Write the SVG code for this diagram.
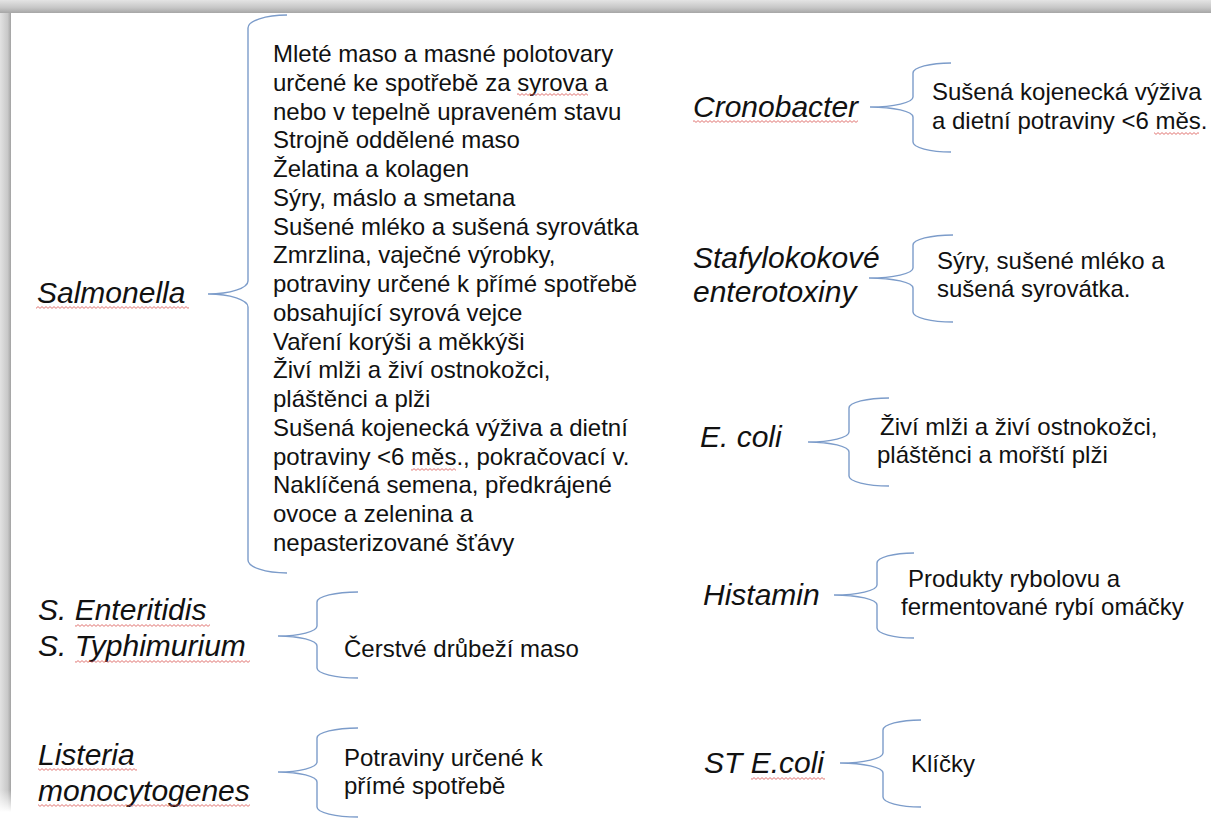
<svg xmlns="http://www.w3.org/2000/svg" width="1211" height="820" viewBox="0 0 1211 820">
<style>
.lbl{font-family:"Liberation Sans",Arial,sans-serif;font-style:italic;font-size:30px;fill:#111}
.txt{font-family:"Liberation Sans",Arial,sans-serif;font-size:24px;fill:#111}
.brace{fill:none;stroke:#7c9cca;stroke-width:1.4}
.sq{fill:url(#squig)}
</style>
<defs>
<linearGradient id="topg" x1="0" y1="0" x2="0" y2="1">
<stop offset="0" stop-color="#e4e4e4"/>
<stop offset="0.6" stop-color="#c6c6c6"/>
<stop offset="1" stop-color="#a6a6a6"/>
</linearGradient>
<linearGradient id="leftg" x1="0" y1="0" x2="1" y2="0">
<stop offset="0" stop-color="#e2e2e2"/>
<stop offset="0.7" stop-color="#c8c8c8"/>
<stop offset="1" stop-color="#a2a2a2"/>
</linearGradient>
<linearGradient id="leftfade" x1="0" y1="0" x2="0" y2="1">
<stop offset="0" stop-color="#fff" stop-opacity="0"/>
<stop offset="1" stop-color="#fff" stop-opacity="1"/>
</linearGradient>
<pattern id="squig" width="4" height="3" patternUnits="userSpaceOnUse">
<polyline points="0,2.4 2,0.6 4,2.4" fill="none" stroke="#d9534f" stroke-width="0.8"/>
</pattern>
</defs>
<rect width="1211" height="820" fill="#fff"/>
<g id="frame">
<rect x="0" y="0" width="11" height="812" fill="url(#leftg)"/>
<rect x="0" y="790" width="11" height="22" fill="url(#leftfade)"/>
<rect x="0" y="0" width="1211" height="13" fill="url(#topg)"/>
</g>
<g id="connectors">
<path class="brace" d="M287,15 A39,13 0 0 0 248,28 V281 A40,13 0 0 1 208,294 A40,13 0 0 1 248,307 V560 A39,13 0 0 0 287,573"/>
<path class="brace" d="M951,63 A38,10 0 0 0 913,73 V97 A43,10 0 0 1 870,107 A43,10 0 0 1 913,117 V142 A38,10 0 0 0 951,152"/>
<path class="brace" d="M953,235 A40,10 0 0 0 913,245 V268 A44,10 0 0 1 869,278 A44,10 0 0 1 913,288 V312 A40,10 0 0 0 953,322"/>
<path class="brace" d="M889,398 A40,10 0 0 0 849,408 V432 A41,10 0 0 1 808,442 A41,10 0 0 1 849,452 V476 A40,10 0 0 0 889,486"/>
<path class="brace" d="M914,553 A37,10 0 0 0 877,563 V585 A43,10 0 0 1 834,595 A43,10 0 0 1 877,605 V628 A37,10 0 0 0 914,638"/>
<path class="brace" d="M921,720 A38,10 0 0 0 883,730 V753 A43,10 0 0 1 840,763 A43,10 0 0 1 883,773 V797 A38,10 0 0 0 921,807"/>
<path class="brace" d="M358,592 A41,10 0 0 0 317,602 V626 A39,10 0 0 1 278,636 A39,10 0 0 1 317,646 V668 A41,10 0 0 0 358,678"/>
<path class="brace" d="M358,728 A41,10 0 0 0 317,738 V762 A39,10 0 0 1 278,772 A39,10 0 0 1 317,782 V807 A41,10 0 0 0 358,817"/>
</g>
<g id="salmonella">
<text class="lbl" x="37" y="303">Salmonella</text>
<rect class="sq" x="36" y="306" width="153" height="3"/>
</g>
<g id="salmonella-foods">
<text class="txt">
<tspan x="273" y="62">Mleté maso a masné polotovary</tspan>
<tspan x="273" y="90.75">určené ke spotřebě za syrova a</tspan>
<tspan x="273" y="119.5">nebo v tepelně upraveném stavu</tspan>
<tspan x="273" y="148.25">Strojně oddělené maso</tspan>
<tspan x="273" y="177">Želatina a kolagen</tspan>
<tspan x="273" y="205.75">Sýry, máslo a smetana</tspan>
<tspan x="273" y="234.5">Sušené mléko a sušená syrovátka</tspan>
<tspan x="273" y="263.25">Zmrzlina, vaječné výrobky,</tspan>
<tspan x="273" y="292">potraviny určené k přímé spotřebě</tspan>
<tspan x="273" y="320.75">obsahující syrová vejce</tspan>
<tspan x="273" y="349.5">Vaření korýši a měkkýši</tspan>
<tspan x="273" y="378.25">Živí mlži a živí ostnokožci,</tspan>
<tspan x="273" y="407">pláštěnci a plži</tspan>
<tspan x="273" y="435.75">Sušená kojenecká výživa a dietní</tspan>
<tspan x="273" y="464.5">potraviny &lt;6 měs., pokračovací v.</tspan>
<tspan x="273" y="493.25">Naklíčená semena, předkrájené</tspan>
<tspan x="273" y="522">ovoce a zelenina a</tspan>
<tspan x="273" y="550.75">nepasterizované šťávy</tspan>
</text>
<rect class="sq" x="517" y="93" width="71" height="3"/>
<rect class="sq" x="411" y="468" width="45" height="3"/>
</g>
<g id="s-enteritidis-typhimurium">
<text class="lbl"><tspan x="38" y="620">S. Enteritidis</tspan><tspan x="38" y="656">S. Typhimurium</tspan></text>
<rect class="sq" x="75" y="624" width="135" height="3"/>
<rect class="sq" x="75" y="660" width="175" height="3"/>
</g>
<g id="poultry">
<text class="txt" x="344" y="657">Čerstvé drůbeží maso</text>
</g>
<g id="listeria">
<text class="lbl"><tspan x="38" y="765">Listeria</tspan><tspan x="38" y="801">monocytogenes</tspan></text>
<rect class="sq" x="38" y="768" width="99" height="3"/>
<rect class="sq" x="38" y="804" width="212" height="3"/>
</g>
<g id="rte-foods">
<text class="txt"><tspan x="344" y="766">Potraviny určené k</tspan><tspan x="344" y="794">přímé spotřebě</tspan></text>
</g>
<g id="cronobacter">
<text class="lbl" x="693" y="117">Cronobacter</text>
<rect class="sq" x="693" y="120" width="165" height="3"/>
</g>
<g id="cronobacter-foods">
<text class="txt"><tspan x="932" y="100">Sušená kojenecká výživa</tspan><tspan x="932" y="129">a dietní potraviny &lt;6 měs.</tspan></text>
<rect class="sq" x="1154" y="132" width="45" height="3"/>
</g>
<g id="staph">
<text class="lbl"><tspan x="693" y="268">Stafylokokové</tspan><tspan x="693" y="302">enterotoxiny</tspan></text>
</g>
<g id="staph-foods">
<text class="txt"><tspan x="937" y="269">Sýry, sušené mléko a</tspan><tspan x="937" y="297">sušená syrovátka.</tspan></text>
</g>
<g id="ecoli">
<text class="lbl" x="700" y="447">E. coli</text>
</g>
<g id="ecoli-foods">
<text class="txt"><tspan x="880" y="435">Živí mlži a živí ostnokožci,</tspan><tspan x="877" y="463">pláštěnci a mořští plži</tspan></text>
</g>
<g id="histamin">
<text class="lbl" x="703" y="605">Histamin</text>
</g>
<g id="histamin-foods">
<text class="txt"><tspan x="908" y="587">Produkty rybolovu a</tspan><tspan x="901" y="615">fermentované rybí omáčky</tspan></text>
</g>
<g id="st-ecoli">
<text class="lbl" x="704" y="773">ST E.coli</text>
<rect class="sq" x="751" y="777" width="74" height="3"/>
</g>
<g id="sprouts">
<text class="txt" x="911" y="772">Klíčky</text>
</g>
</svg>
